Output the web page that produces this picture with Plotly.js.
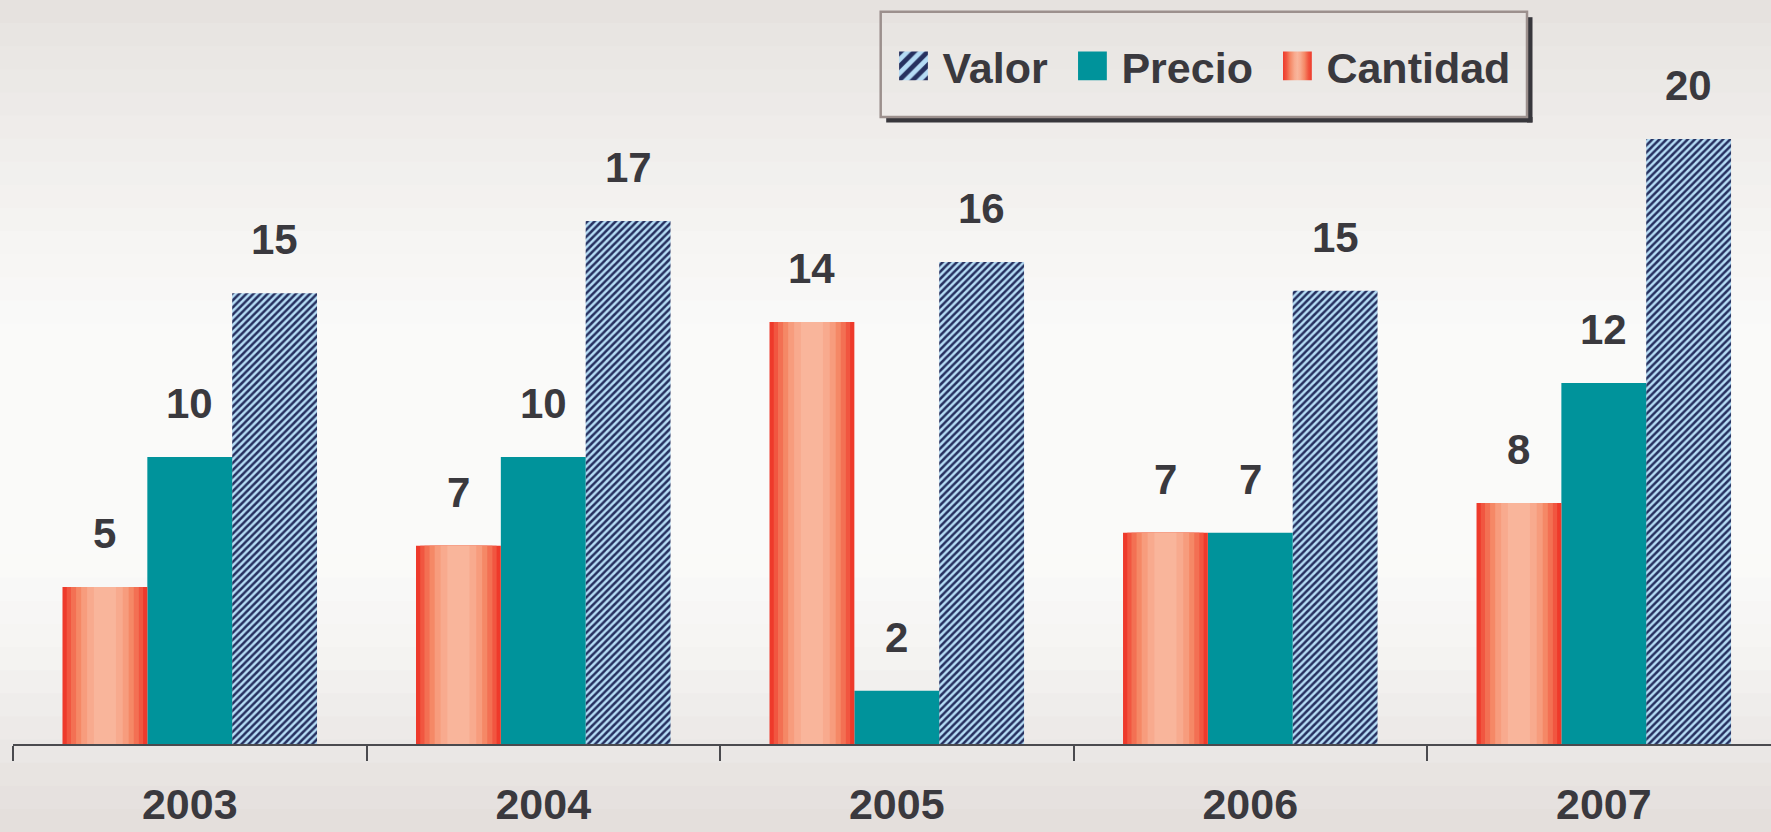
<!DOCTYPE html>
<html>
<head>
<meta charset="utf-8">
<script src="https://cdn.plot.ly/plotly-3.0.1.min.js"></script>
<style>
  html, body { margin: 0; padding: 0; background: #eeebe9; }
  #chart { width: 1771px; height: 832px; }
</style>
</head>
<body>
<div id="chart"></div>
<script>
// ---------- data ----------
const years = ['2003', '2004', '2005', '2006', '2007'];
const cantidad = [5.19, 6.55, 13.95, 6.98, 7.97];
const precio   = [9.49, 9.49, 1.76, 6.98, 11.93];
const valor    = [14.90, 17.29, 15.93, 14.98, 20.00];
const cantidadLabels = ['5', '7', '14', '7', '8'];
const precioLabels   = ['10', '10', '2', '7', '12'];
const valorLabels    = ['15', '17', '16', '15', '20'];
const seriesNames = ['Valor', 'Precio', 'Cantidad'];

// ---------- layout geometry / style ----------
const W = 1771, H = 832;
const M = { l: 13, r: 0, t: 18, b: 88 };
const PW = W - M.l - M.r, PH = H - M.t - M.b;
const px2x = px => (px - M.l) / PW;
const py2y = py => (H - M.b - py) / PH;

const FONT = 'Liberation Sans, Arial, sans-serif';
const TXT = '#3a393e';
const BW = 0.24;
const OFF = { Cantidad: -0.36, Precio: -0.12, Valor: 0.12 };

// background bands (vertical gradient)
const stops = [
  [0, [229, 225, 222]], [60, [234, 231, 228]], [150, [240, 238, 236]],
  [250, [246, 245, 243]], [330, [250, 250, 249]], [560, [250, 250, 249]],
  [650, [245, 244, 242]], [720, [238, 235, 233]], [770, [232, 228, 226]],
  [832, [227, 222, 219]]
];
function bgAt(py) {
  for (let i = 1; i < stops.length; i++) {
    if (py <= stops[i][0]) {
      const [y0, c0] = stops[i - 1], [y1, c1] = stops[i];
      const t = (py - y0) / (y1 - y0);
      const c = c0.map((v, k) => Math.round(v + (c1[k] - v) * t));
      return 'rgb(' + c.join(',') + ')';
    }
  }
  return 'rgb(227,222,219)';
}
const shapes = [];
const NB = 36, bandH = H / NB;
for (let i = 0; i < NB; i++) {
  const top = i * bandH, bot = (i + 1) * bandH + 1;
  shapes.push({
    type: 'rect', xref: 'paper', yref: 'paper', layer: 'below',
    x0: px2x(0), x1: px2x(W), y0: py2y(bot), y1: py2y(top),
    fillcolor: bgAt((top + bot) / 2), line: { width: 0 }
  });
}
// legend frame with shadow
const LB = { x0: 880.7, x1: 1527, y0: 11.7, y1: 117 };
shapes.push({ type: 'rect', xref: 'paper', yref: 'paper',
  x0: px2x(LB.x1), x1: px2x(LB.x1 + 5.5), y0: py2y(LB.y1 + 5.5), y1: py2y(LB.y0 + 5.5),
  fillcolor: '#38373c', line: { width: 0 } });
shapes.push({ type: 'rect', xref: 'paper', yref: 'paper',
  x0: px2x(LB.x0 + 5.5), x1: px2x(LB.x1 + 5.5), y0: py2y(LB.y1 + 5.5), y1: py2y(LB.y1),
  fillcolor: '#38373c', line: { width: 0 } });
shapes.push({ type: 'rect', xref: 'paper', yref: 'paper',
  x0: px2x(LB.x0), x1: px2x(LB.x1), y0: py2y(LB.y1), y1: py2y(LB.y0),
  fillcolor: 'rgba(0,0,0,0)', line: { color: '#9c908d', width: 2.5 } });

// ---------- traces ----------
const traces = [];
traces.push({
  type: 'bar', name: seriesNames[0], x: years, y: valor,
  width: BW, offset: OFF.Valor, legendrank: 1,
  marker: { color: '#b5dcf5', line: { width: 0 },
    pattern: { shape: '/', fgcolor: '#26305f', bgcolor: '#b5dcf5', size: 5, solidity: 0.5 } },
  hoverinfo: 'skip'
});
traces.push({
  type: 'bar', name: seriesNames[1], x: years, y: precio,
  width: BW, offset: OFF.Precio, legendrank: 2,
  marker: { color: '#00939b', line: { width: 0 } },
  hoverinfo: 'skip'
});
// Cantidad: horizontal gradient built from nested bar layers
const gradLayers = [
  [1.00, '#ee3a2b'], [0.90, '#f15640'], [0.80, '#f37053'],
  [0.68, '#f58866'], [0.56, '#f79c7d'], [0.42, '#f8aa8e'], [0.26, '#f9b59b']
];
gradLayers.forEach(([f, c]) => {
  traces.push({
    type: 'bar', name: seriesNames[2], x: years, y: cantidad,
    width: BW * f, offset: OFF.Cantidad + BW * (1 - f) / 2,
    marker: { color: c, line: { width: 0 } },
    showlegend: false, hoverinfo: 'skip'
  });
});
// legend entry for Cantidad
traces.push({
  type: 'bar', name: seriesNames[2], x: years, y: years.map(() => null),
  width: BW, offset: OFF.Cantidad, legendrank: 3,
  marker: { color: '#f8b093', line: { width: 0 } },
  hoverinfo: 'skip'
});

// ---------- value labels ----------
const annotations = [];
const labelSets = [
  [cantidad, cantidadLabels, OFF.Cantidad],
  [precio, precioLabels, OFF.Precio],
  [valor, valorLabels, OFF.Valor]
];
labelSets.forEach(([vals, labs, off]) => {
  vals.forEach((v, i) => {
    annotations.push({
      x: i + off + BW / 2, y: v, xref: 'x', yref: 'y',
      text: labs[i], showarrow: false, xanchor: 'center', yanchor: 'bottom',
      yshift: 28, font: { family: FONT, size: 42, color: TXT, weight: 'bold' }
    });
  });
});

const ITEMW = 58.5;
const layout = {
  width: W, height: H,
  margin: M,
  paper_bgcolor: '#eeebe9',
  plot_bgcolor: 'rgba(0,0,0,0)',
  barmode: 'overlay',
  showlegend: true,
  hovermode: false,
  legend: {
    orientation: 'h', x: px2x(874), xanchor: 'left', y: py2y(66), yanchor: 'middle',
    bgcolor: 'rgba(0,0,0,0)', borderwidth: 0, itemwidth: ITEMW,
    font: { family: FONT, size: 43, color: TXT, weight: 'bold' },
    traceorder: 'normal'
  },
  xaxis: {
    type: 'category', range: [-0.5, 4.473], tickson: 'boundaries',
    showline: true, linecolor: '#4a4a4e', linewidth: 2,
    ticks: 'outside', ticklen: 15, tickwidth: 2, tickcolor: '#4a4a4e',
    ticklabelstandoff: 21,
    tickfont: { family: FONT, size: 43, color: TXT, weight: 'bold' },
    showgrid: false, zeroline: false, fixedrange: true
  },
  yaxis: {
    range: [0, 24], visible: false, showgrid: false, zeroline: false, fixedrange: true
  },
  shapes: shapes,
  annotations: annotations
};

const gradStops = [
  [0, '#ee3a2b'], [0.12, '#f15640'], [0.25, '#f58866'], [0.4, '#f8aa8e'],
  [0.5, '#f9b59b'], [0.6, '#f8aa8e'], [0.75, '#f58866'], [0.88, '#f15640'], [1, '#ee3a2b']
];

Plotly.newPlot('chart', traces, layout, { displayModeBar: false, staticPlot: true })
  .then(gd => {
    const NS = 'http://www.w3.org/2000/svg';
    gd.querySelectorAll('.legend .traces').forEach(t => {
      const name = (t.querySelector('.legendtext') || {}).textContent;
      t.querySelectorAll('.legendpoints path').forEach(p => {
        p.setAttribute('transform', 'translate(' + (ITEMW - 19) + ',0) scale(2.4)');
        if (name === seriesNames[2]) {
          const svg = p.ownerSVGElement;
          let defs = svg.querySelector('defs');
          if (!defs) { defs = document.createElementNS(NS, 'defs'); svg.insertBefore(defs, svg.firstChild); }
          const lg = document.createElementNS(NS, 'linearGradient');
          lg.setAttribute('id', 'cantidadGrad');
          lg.setAttribute('x1', '0'); lg.setAttribute('x2', '1');
          lg.setAttribute('y1', '0'); lg.setAttribute('y2', '0');
          gradStops.forEach(([o, c]) => {
            const s = document.createElementNS(NS, 'stop');
            s.setAttribute('offset', o); s.setAttribute('stop-color', c);
            lg.appendChild(s);
          });
          defs.appendChild(lg);
          p.style.fill = 'url(#cantidadGrad)';
        }
      });
    });
  });
</script>
</body>
</html>
